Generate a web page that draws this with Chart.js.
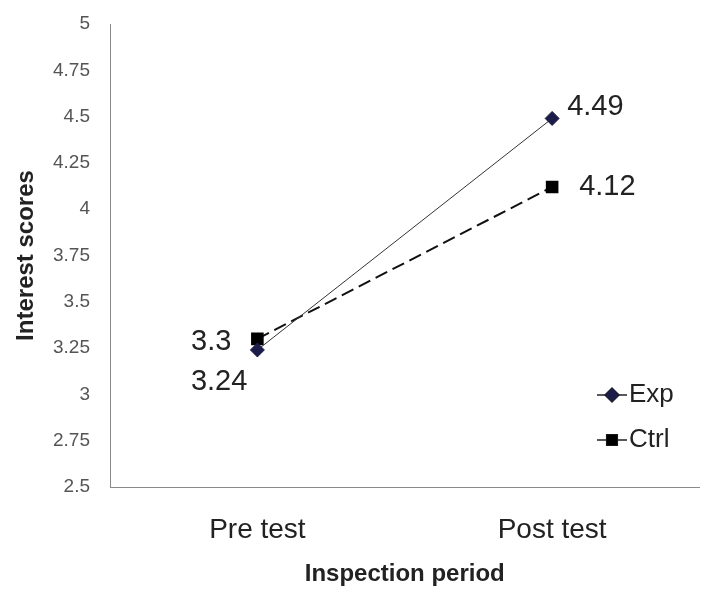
<!DOCTYPE html>
<html>
<head>
<meta charset="utf-8">
<script src="https://cdn.jsdelivr.net/npm/chart.js@4/dist/chart.umd.min.js"></script>
<style>
html,body{margin:0;padding:0;background:#fff;}
#wrap{width:709px;height:590px;}
</style>
</head>
<body>
<div id="wrap"><canvas id="c" width="709" height="590"></canvas></div>
<script>
const categories = ['Pre test', 'Post test'];
const expValues = [3.24, 4.49];
const ctrlValues = [3.3, 4.12];
const seriesNames = ['Exp', 'Ctrl'];
const yMin = 2.5, yMax = 5, yStep = 0.25;

// label offsets relative to each point (px) — style config, not data
const labelPlacement = {
  0: [{dx: -10, dy: 32, align: 'right'}, {dx: 15, dy: -11, align: 'left'}],
  1: [{dx: -26, dy: 3, align: 'right'}, {dx: 27, dy: 0, align: 'left'}]
};

const FONT = '"Liberation Sans", Arial, sans-serif';

const valueLabels = {
  id: 'valueLabels',
  afterDatasetsDraw(chart) {
    const ctx = chart.ctx;
    ctx.save();
    ctx.font = '29px ' + FONT;
    ctx.fillStyle = '#222';
    ctx.textBaseline = 'middle';
    chart.data.datasets.forEach((ds, di) => {
      const meta = chart.getDatasetMeta(di);
      meta.data.forEach((pt, i) => {
        const p = labelPlacement[di][i];
        ctx.textAlign = p.align;
        ctx.fillText(String(ds.data[i]), pt.x + p.dx, pt.y + p.dy);
      });
    });
    ctx.restore();
  }
};

const customLegend = {
  id: 'customLegend',
  afterDraw(chart) {
    const ctx = chart.ctx;
    const x0 = 597, x1 = 627, ys = [395, 440];
    ctx.save();
    chart.data.datasets.forEach((ds, di) => {
      const y = ys[di];
      ctx.strokeStyle = '#222';
      ctx.lineWidth = 1.5;
      ctx.setLineDash([]);
      ctx.beginPath(); ctx.moveTo(x0, y); ctx.lineTo(x1, y); ctx.stroke();
      Chart.helpers.drawPoint(ctx, {
        pointStyle: ds.pointStyle, radius: ds.pointRadius, borderWidth: 1
      }, (x0 + x1) / 2, y);
      ctx.fillStyle = ds.pointBackgroundColor;
      ctx.fill();
      ctx.font = '26px ' + FONT;
      ctx.fillStyle = '#222';
      ctx.textAlign = 'left';
      ctx.textBaseline = 'middle';
      ctx.fillText(ds.label, 629, y);
    });
    ctx.restore();
  }
};

new Chart(document.getElementById('c'), {
  type: 'line',
  data: {
    labels: categories,
    datasets: [
      {
        label: seriesNames[0],
        data: expValues,
        borderColor: '#333',
        borderWidth: 1,
        pointStyle: 'rectRot',
        pointRadius: 7,
        pointBackgroundColor: '#1c1c48',
        pointBorderColor: '#1c1c48',
        tension: 0
      },
      {
        label: seriesNames[1],
        data: ctrlValues,
        borderColor: '#111',
        borderWidth: 2,
        borderDash: [13, 6],
        pointStyle: 'rect',
        pointRadius: 7.5,
        pointBackgroundColor: '#000',
        pointBorderColor: '#000',
        tension: 0
      }
    ]
  },
  options: {
    responsive: false,
    animation: false,
    layout: {padding: {top: 24, right: 5, left: 0, bottom: 0}},
    plugins: {legend: {display: false}, tooltip: {enabled: false}},
    scales: {
      x: {
        offset: true,
        grid: {display: false, drawTicks: false},
        border: {display: true, color: '#8a8a8a', width: 1},
        ticks: {font: {size: 28, family: FONT}, color: '#222', padding: 26},
        title: {display: true, text: 'Inspection period', font: {size: 24, weight: 'bold', family: FONT}, color: '#222', padding: {top: 0, bottom: 1}},
        afterFit(s) { s.height = 103; }
      },
      y: {
        min: yMin, max: yMax,
        grid: {display: false, drawTicks: false},
        border: {display: true, color: '#8a8a8a', width: 1},
        ticks: {stepSize: yStep, font: {size: 19, family: FONT}, color: '#555', padding: 20,
          callback: v => String(+v.toFixed(2))},
        title: {display: true, text: 'Interest scores', font: {size: 24, weight: 'bold', family: FONT}, color: '#222', padding: {top: 12, bottom: 0}},
        afterFit(s) { s.width = 110; s.paddingTop = 0; s.paddingBottom = 0; }
      }
    }
  },
  plugins: [valueLabels, customLegend]
});
</script>
</body>
</html>
